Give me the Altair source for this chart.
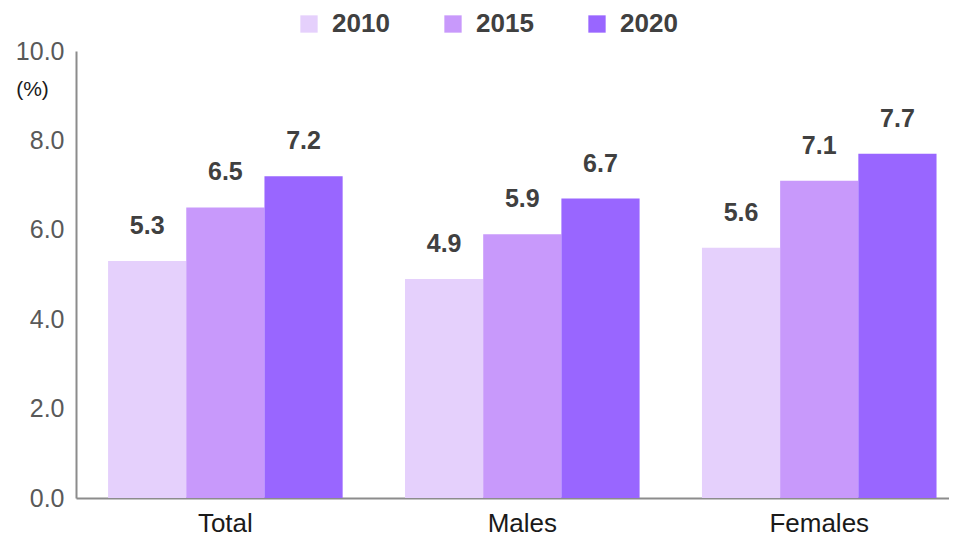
import altair as alt
import pandas as pd

categories = ["Total", "Males", "Females"]
years = ["2010", "2015", "2020"]
values_2010 = [5.3, 4.9, 5.6]
values_2015 = [6.5, 5.9, 7.1]
values_2020 = [7.2, 6.7, 7.7]
colors = ["#E5D0FC", "#C899FB", "#9966FF"]

rows = []
for yr, vals in zip(years, [values_2010, values_2015, values_2020]):
    for c, v in zip(categories, vals):
        rows.append({"Group": c, "Year": yr, "Value": v})
df = pd.DataFrame(rows)

x_enc = alt.X("Group:N", sort=categories,
              scale=alt.Scale(paddingInner=0.21, paddingOuter=0.075, align=0.72),
              axis=alt.Axis(title=None, labelAngle=0, labelFont="Liberation Sans",
                            labelFontSize=26, labelColor="#1a1a1a", labelPadding=12,
                            ticks=False, domainColor="#8c8c8c", domainWidth=2))
xoff = alt.XOffset("Year:N", sort=years, scale=alt.Scale(paddingInner=0, paddingOuter=0))
y_enc = alt.Y("Value:Q", scale=alt.Scale(domain=[0, 10]),
              axis=alt.Axis(values=[0, 2, 4, 6, 8, 10], format=".1f", grid=False,
                            ticks=False, labelFont="Liberation Sans", labelFontSize=25,
                            labelColor="#595959", labelPadding=12,
                            domainColor="#8c8c8c", domainWidth=2,
                            title="(%)", titleAngle=0, titleFont="Liberation Sans",
                            titleFontSize=21, titleFontWeight="normal", titleColor="#1a1a1a",
                            titleX=-44, titleY=38, titleAlign="center",
                            titleBaseline="middle"))

base = alt.Chart(df).encode(x=x_enc, xOffset=xoff)

bars = base.mark_bar().encode(
    y=y_enc,
    color=alt.Color("Year:N", sort=years,
                    scale=alt.Scale(domain=years, range=colors),
                    legend=alt.Legend(title=None, orient="none", direction="horizontal",
                                      legendX=220, legendY=-40, symbolType="square",
                                      symbolSize=300, symbolStrokeWidth=0,
                                      labelFont="Liberation Sans", labelFontSize=26,
                                      labelFontWeight="bold", labelColor="#404040",
                                      labelOffset=10, columnPadding=50, padding=0))
)

labels = base.mark_text(baseline="alphabetic", dy=-27, font="Liberation Sans",
                        fontSize=25, fontWeight="bold", color="#404040").encode(
    y=alt.Y("Value:Q"),
    text=alt.Text("Value:Q", format=".1f"),
)

chart = alt.layer(bars, labels).properties(
    width=873, height=447,
    padding={"left": 7, "top": 3, "right": 0, "bottom": 0},
).configure_view(stroke=None)

chart.save("out.html", embed_options={"renderer": "svg", "actions": False})
